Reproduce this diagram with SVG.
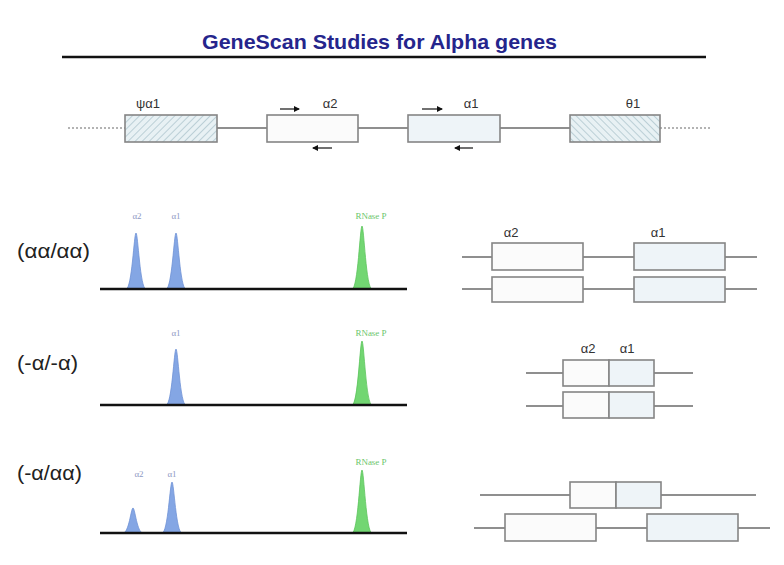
<svg xmlns="http://www.w3.org/2000/svg" width="784" height="565" viewBox="0 0 784 565">
<defs>
<pattern id="hatchR" patternUnits="userSpaceOnUse" width="5" height="5" patternTransform="rotate(45)">
<rect width="5" height="5" fill="#e8f1f4"/>
<line x1="0" y1="0" x2="0" y2="5" stroke="#9db8c2" stroke-width="1.2"/>
</pattern>
<pattern id="hatchL" patternUnits="userSpaceOnUse" width="5" height="5" patternTransform="rotate(-45)">
<rect width="5" height="5" fill="#e8f1f4"/>
<line x1="0" y1="0" x2="0" y2="5" stroke="#9db8c2" stroke-width="1.2"/>
</pattern>
<marker id="ah" markerWidth="6" markerHeight="6" refX="5" refY="3" orient="auto" markerUnits="userSpaceOnUse">
<path d="M0,0 L6,3 L0,6 Z" fill="#111"/>
</marker>
</defs>
<style>
.title{font-family:"Liberation Sans",Arial,sans-serif;font-weight:bold;font-size:21px;fill:#25258c}
.gl{font-family:"Liberation Sans",Arial,sans-serif;font-size:13px;fill:#333;text-anchor:middle}
.row{font-family:"Liberation Sans",Arial,sans-serif;font-size:20px;fill:#222}
.pk{font-family:"Liberation Serif","Times New Roman",serif;font-size:9px;text-anchor:middle}
.pb{fill:#8e9ac4}
.pg{fill:#6cc66c}
.strand{stroke:#8f8f8f;stroke-width:2;fill:none}
.dot{stroke:#9a9a9a;stroke-width:1.5;stroke-dasharray:2 2;fill:none}
.box{stroke:#858585;stroke-width:1.6}
.w{fill:#fbfbfb}
.b{fill:#eef4f8}
.axis{stroke:#111;stroke-width:2.5}
.blue{fill:#84a6e4;stroke:#6f92d6;stroke-width:0.8}
.green{fill:#72d672;stroke:#5cc45c;stroke-width:0.8}
.prim{stroke:#111;stroke-width:1.2;fill:none}
</style>
<rect width="784" height="565" fill="#ffffff"/>

<g id="title">
<text class="title" x="202" y="49" textLength="355" lengthAdjust="spacingAndGlyphs">GeneScan Studies for Alpha genes</text>
<line x1="62" y1="57" x2="706" y2="57" stroke="#111" stroke-width="2.5"/>
</g>

<g id="connectors">
<line class="dot" x1="68" y1="128" x2="125" y2="128"/>
<line class="strand" x1="217" y1="128" x2="267" y2="128"/>
<line class="strand" x1="358" y1="128" x2="408" y2="128"/>
<line class="strand" x1="500" y1="128" x2="570" y2="128"/>
<line class="dot" x1="660" y1="128" x2="710" y2="128"/>
<line class="prim" x1="280" y1="109" x2="299" y2="109" marker-end="url(#ah)"/>
<line class="prim" x1="332" y1="148" x2="313" y2="148" marker-end="url(#ah)"/>
<line class="prim" x1="422" y1="109" x2="442" y2="109" marker-end="url(#ah)"/>
<line class="prim" x1="473" y1="148" x2="455" y2="148" marker-end="url(#ah)"/>
<line class="strand" x1="462" y1="257" x2="757" y2="257"/>
<line class="strand" x1="462" y1="289" x2="757" y2="289"/>
<line class="strand" x1="526" y1="373" x2="693" y2="373"/>
<line class="strand" x1="526" y1="406" x2="693" y2="406"/>
<line class="strand" x1="480" y1="495" x2="756" y2="495"/>
<line class="strand" x1="474" y1="528" x2="770" y2="528"/>
</g>

<g id="genemap">
<g id="psi-a1"><rect class="box" x="125" y="115" width="92" height="27" fill="url(#hatchR)"/><text class="gl" x="148" y="108">ψα1</text></g>
<g id="a2"><rect class="box w" x="267" y="115" width="91" height="27"/><text class="gl" x="330" y="108">α2</text></g>
<g id="a1"><rect class="box b" x="408" y="115" width="92" height="27"/><text class="gl" x="471" y="108">α1</text></g>
<g id="theta1"><rect class="box" x="570" y="115" width="90" height="27" fill="url(#hatchL)"/><text class="gl" x="633" y="108">θ1</text></g>
</g>

<g id="row1">
<text class="row" x="17" y="258" textLength="73" lengthAdjust="spacingAndGlyphs">(αα/αα)</text>
<path class="blue" d="M126,289 C132,289 134,233 136,233 C138,233 140,289 146,289 Z"/>
<path class="blue" d="M166,289 C172,289 174,233 176,233 C178,233 180,289 186,289 Z"/>
<path class="green" d="M352,289 C358,289 360,226 362,226 C364,226 366,289 372,289 Z"/>
<line class="axis" x1="100" y1="289" x2="407" y2="289"/>
<text class="pk pb" x="137" y="219">α2</text>
<text class="pk pb" x="176" y="219">α1</text>
<text class="pk pg" x="371" y="219">RNase P</text>
</g>
<g id="row1-genes">
<rect class="box w" x="492" y="243" width="91" height="27"/>
<rect class="box b" x="634" y="243" width="91" height="27"/>
<rect class="box w" x="492" y="277" width="91" height="25"/>
<rect class="box b" x="634" y="277" width="91" height="25"/>
<text class="gl" x="511" y="237">α2</text>
<text class="gl" x="658" y="237">α1</text>
</g>

<g id="row2">
<text class="row" x="17" y="370" textLength="61" lengthAdjust="spacingAndGlyphs">(-α/-α)</text>
<path class="blue" d="M166,405 C172,405 174,349 176,349 C178,349 180,405 186,405 Z"/>
<path class="green" d="M352,405 C358,405 360,341 362,341 C364,341 366,405 372,405 Z"/>
<line class="axis" x1="100" y1="405" x2="407" y2="405"/>
<text class="pk pb" x="176" y="336">α1</text>
<text class="pk pg" x="371" y="336">RNase P</text>
</g>
<g id="row2-genes">
<rect class="box w" x="563" y="360" width="46" height="26"/>
<rect class="box b" x="609" y="360" width="45" height="26"/>
<rect class="box w" x="563" y="392" width="46" height="26"/>
<rect class="box b" x="609" y="392" width="45" height="26"/>
<text class="gl" x="588" y="353">α2</text>
<text class="gl" x="627" y="353">α1</text>
</g>

<g id="row3">
<text class="row" x="17" y="480" textLength="65" lengthAdjust="spacingAndGlyphs">(-α/αα)</text>
<path class="blue" d="M123,533 C129,533 131,508 133,508 C135,508 137,533 143,533 Z"/>
<path class="blue" d="M162,533 C168,533 170,482 172,482 C174,482 176,533 182,533 Z"/>
<path class="green" d="M352,533 C358,533 360,470 362,470 C364,470 366,533 372,533 Z"/>
<line class="axis" x1="100" y1="533" x2="407" y2="533"/>
<text class="pk pb" x="139" y="477">α2</text>
<text class="pk pb" x="172" y="477">α1</text>
<text class="pk pg" x="371" y="465">RNase P</text>
</g>
<g id="row3-genes">
<rect class="box w" x="570" y="482" width="46" height="26"/>
<rect class="box b" x="616" y="482" width="45" height="26"/>
<rect class="box w" x="505" y="514" width="91" height="27"/>
<rect class="box b" x="647" y="514" width="91" height="27"/>
</g>
</svg>
